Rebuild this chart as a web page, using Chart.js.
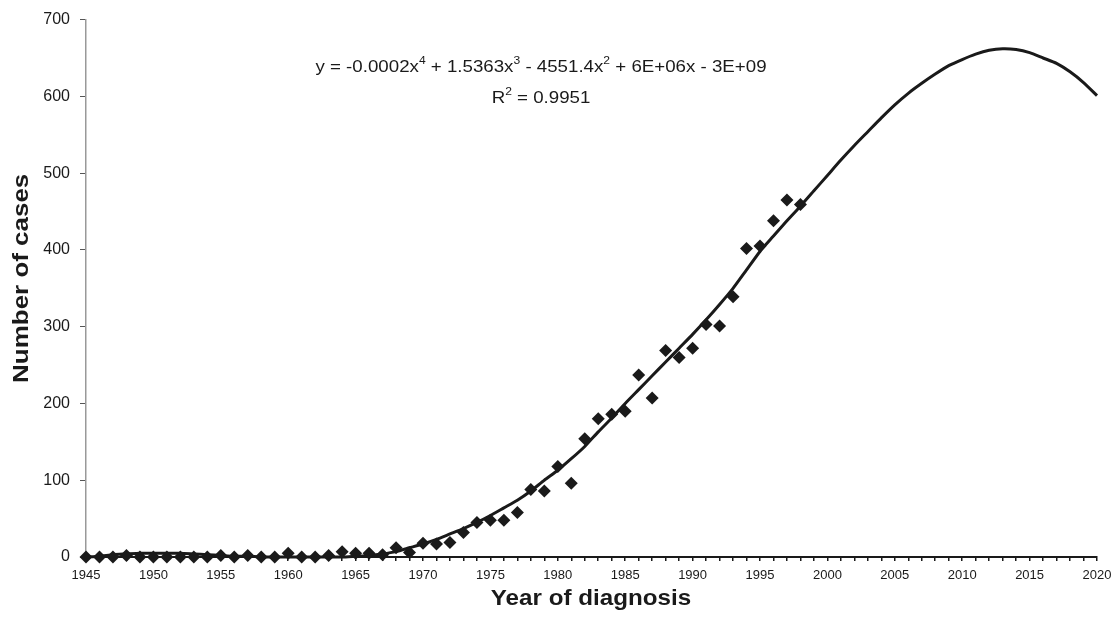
<!DOCTYPE html>
<html>
<head>
<meta charset="utf-8">
<script src="https://cdn.jsdelivr.net/npm/chart.js@4.4.1/dist/chart.umd.min.js"></script>
<style>
html,body{margin:0;padding:0;background:#fff;}
#wrap{width:1114px;height:620px;position:relative;}
</style>
</head>
<body>
<div id="wrap"><canvas id="c" width="1114" height="620"></canvas></div>
<script>
// Observed cases per year of diagnosis
const caseYears = [1945,1946,1947,1948,1949,1950,1951,1952,1953,1954,1955,1956,1957,1958,1959,1960,1961,1962,1963,1964,1965,1966,1967,1968,1969,1970,1971,1972,1973,1974,1975,1976,1977,1978,1979,1980,1981,1982,1983,1984,1985,1986,1987,1988,1989,1990,1991,1992,1993,1994,1995,1996,1997,1998];
const caseCounts = [0,0,0,2,0,0,0,0,0,0,2,0,2,0,0,5,0,0,2,7,5,5,3,12,6,18,17,19,32,45,48,48,58,88,86,118,96,154,180,186,190,237,207,269,260,272,303,301,339,402,405,438,465,459];

// Polynomial trend line
const trendYears = [1945,1946,1947,1948,1949,1950,1951,1952,1953,1954,1955,1956,1957,1958,1959,1960,1961,1962,1963,1964,1965,1966,1967,1968,1969,1970,1971,1972,1973,1974,1975,1976,1977,1978,1979,1980,1981,1982,1983,1984,1985,1986,1987,1988,1989,1990,1991,1992,1993,1994,1995,1996,1997,1998,1999,2000,2001,2002,2003,2004,2005,2006,2007,2008,2009,2010,2011,2012,2013,2014,2015,2016,2017,2018,2019,2020];
const trendValues = [0,1,3,4,5,5,5,5,4,3,2,1,1,0,0,0,0,0,0,0,1,2,4,7,12,17,23,30,37,45,54,64,74,86,100,113,128,144,163,181,200,218,236,254,272,290,309,329,350,374,398,418,438,457,477,497,517,536,554,572,589,604,617,629,640,648,655,660,662,661,657,650,643,632,618,601];

const yTicks = [0,100,200,300,400,500,600,700];
const xLabelYears = [1945,1950,1955,1960,1965,1970,1975,1980,1985,1990,1995,2000,2005,2010,2015,2020];

const equationText = {
  line1: [["y = -0.0002x",""],["4","sup"],[" + 1.5363x",""],["3","sup"],[" - 4551.4x",""],["2","sup"],[" + 6E+06x - 3E+09",""]],
  line2: [["R",""],["2","sup"],[" = 0.9951",""]]
};
const xTitle = 'Year of diagnosis';
const yTitle = 'Number of cases';

const FONT = "'Liberation Sans', Arial, sans-serif";

const textPlugin = {
  id: 'texts',
  afterDraw(chart) {
    const ctx = chart.ctx;
    const area = chart.chartArea;
    function drawLine(parts, cx, y) {
      const base = "17px " + FONT, sup = "11px " + FONT;
      const sx = 1.1;
      let w = 0;
      parts.forEach(p => { ctx.font = p[1] ? sup : base; w += ctx.measureText(p[0]).width; });
      ctx.save();
      ctx.translate(cx - w * sx / 2, y);
      ctx.scale(sx, 1);
      let x = 0;
      ctx.fillStyle = '#1a1a1a';
      ctx.textBaseline = 'alphabetic';
      ctx.textAlign = 'left';
      parts.forEach(p => {
        ctx.font = p[1] ? sup : base;
        ctx.fillText(p[0], x, p[1] ? -8 : 0);
        x += ctx.measureText(p[0]).width;
      });
      ctx.restore();
    }
    drawLine(equationText.line1, 541, 72);
    drawLine(equationText.line2, 541, 103);

    // axis titles
    ctx.save();
    ctx.fillStyle = '#1a1a1a';
    ctx.font = "bold 22px " + FONT;
    ctx.textAlign = 'center';
    ctx.textBaseline = 'middle';
    ctx.save();
    ctx.translate(591, 599);
    ctx.scale(1.1, 1);
    ctx.fillText(xTitle, 0, 0);
    ctx.restore();
    ctx.save();
    ctx.translate(22, (area.top + area.bottom) / 2 - 10);
    ctx.rotate(-Math.PI / 2);
    ctx.scale(1.18, 1);
    ctx.fillText(yTitle, 0, 0);
    ctx.restore();
    ctx.restore();
  }
};

new Chart(document.getElementById('c'), {
  type: 'scatter',
  data: {
    datasets: [
      {
        type: 'line',
        label: 'Trend',
        data: trendYears.map((x, i) => ({x: x, y: trendValues[i]})),
        borderColor: '#1a1a1a',
        borderWidth: 3,
        pointRadius: 0,
        tension: 0.2,
        fill: false,
        order: 2
      },
      {
        label: 'Cases',
        data: caseYears.map((x, i) => ({x: x, y: caseCounts[i]})),
        pointStyle: 'rectRot',
        pointRadius: 6.5,
        backgroundColor: '#1a1a1a',
        borderColor: '#1a1a1a',
        borderWidth: 0,
        order: 1
      }
    ]
  },
  options: {
    responsive: false,
    animation: false,
    clip: false,
    layout: { padding: { top: 12, right: 17, left: 0, bottom: 0 } },
    plugins: { legend: { display: false }, tooltip: { enabled: false } },
    scales: {
      x: {
        type: 'linear',
        min: 1945, max: 2020,
        afterFit(s) { s.height = 63; s.paddingLeft = 0; s.paddingRight = 0; },
        border: { color: '#1a1a1a', width: 2 },
        grid: { drawOnChartArea: false, drawTicks: true, tickLength: 4, color: '#1a1a1a', lineWidth: 1.5 },
        ticks: {
          stepSize: 1, autoSkip: false, maxRotation: 0, padding: 7,
          color: '#1a1a1a',
          font: { family: FONT, size: 13 },
          callback: v => xLabelYears.includes(v) ? String(v) : ''
        },
        title: { display: false }
      },
      y: {
        min: 0, max: 700,
        afterFit(s) { s.width = 86; },
        afterBuildTicks(s) { s.ticks = yTicks.map(v => ({value: v})); },
        border: { color: '#999999', width: 1.5 },
        grid: { drawOnChartArea: false, drawTicks: true, tickLength: 6, color: '#555555' },
        ticks: {
          color: '#1a1a1a', padding: 10,
          font: { family: FONT, size: 16 }
        },
        title: { display: false }
      }
    }
  },
  plugins: [textPlugin]
});
</script>
</body>
</html>
